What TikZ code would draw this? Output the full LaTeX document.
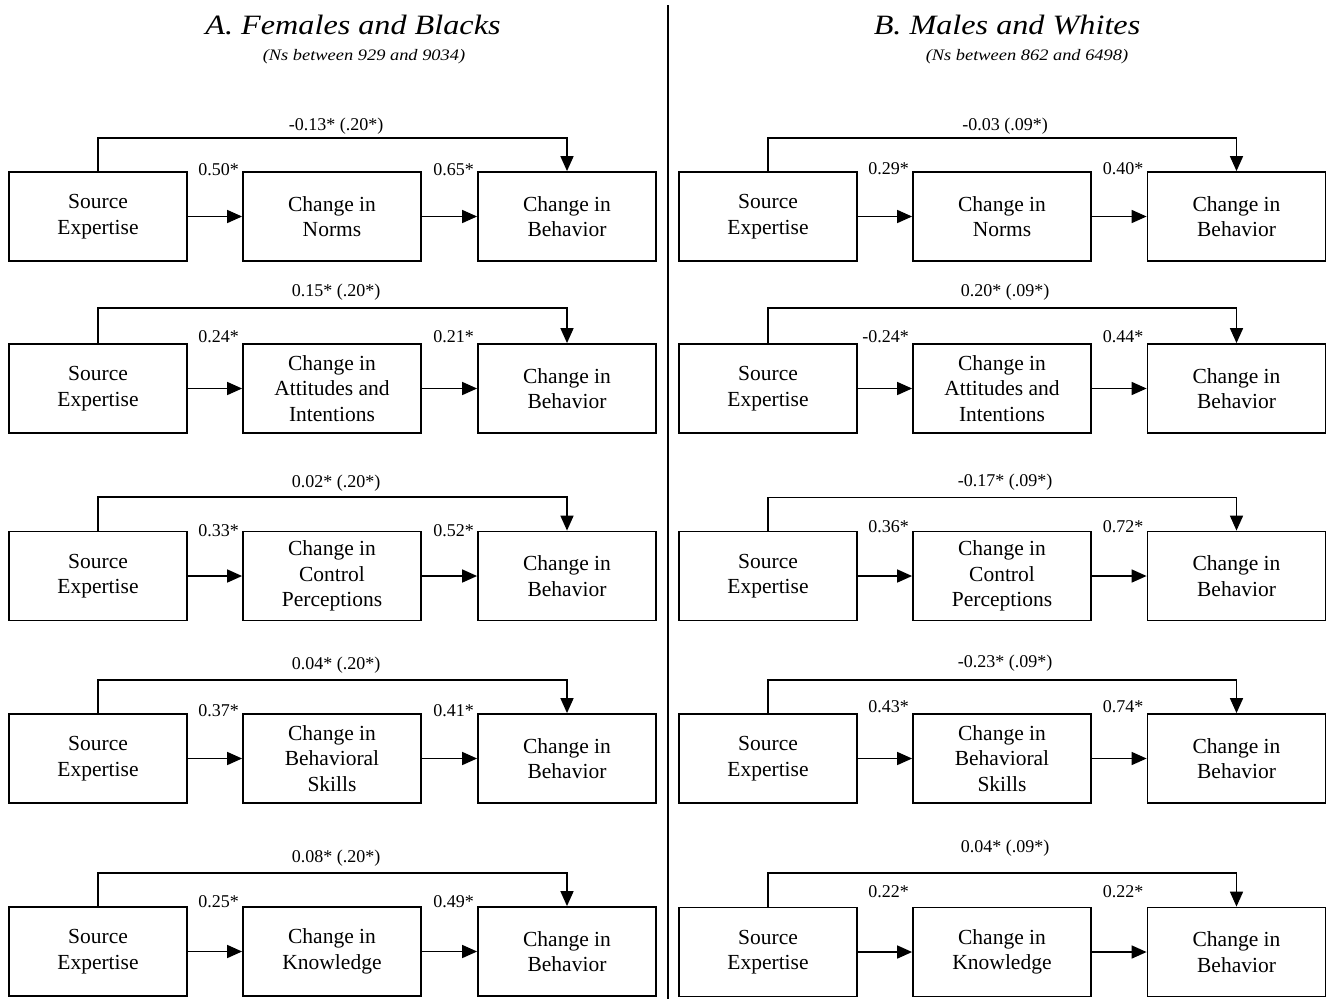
\documentclass[tikz,border=0pt]{standalone}
\usepackage{fontspec}
\setmainfont{Liberation Serif}
\newfontfamily\widefont{Liberation Serif}[FakeStretch=1.15]
\usetikzlibrary{arrows.meta}
\tikzset{
	box/.style={draw, line width=1.8pt, minimum width=178pt, minimum height=89pt,
		inner sep=0pt, align=center, font=\fontsize{21.5}{25.5}\selectfont},
	coef/.style={inner sep=0pt, font=\fontsize{18}{20}\selectfont},
	arr/.style={line width=1.6pt, -{Triangle[length=15pt,width=13pt]}}
}
\begin{document}
\begin{tikzpicture}[x=1pt,y=-1pt]
	\useasboundingbox (0,0) rectangle (1329,999);
	\path node (titA) at (353,25) {\widefont\itshape\fontsize{28}{30}\selectfont A. Females and Blacks}
		  node (subA) at (364,57) {\widefont\itshape\fontsize{16}{18}\selectfont (Ns between 929 and 9034)}
		  node (titB) at (1007,25) {\widefont\itshape\fontsize{28}{30}\selectfont B. Males and Whites}
		  node (subB) at (1027,57) {\widefont\itshape\fontsize{16}{18}\selectfont (Ns between 862 and 6498)};
	\draw [line width=1.8pt] (668,5) -- (668,999);
	\foreach \y/\ly/\ty/\iy/\mtext/\cfall/\cfa/\cfb [count=\row] in {
		216.5/138/126/170/Change in\\Norms/-0.13* (.20*)/0.50*/0.65*,
		388.5/308/292/337/Change in\\Attitudes and\\Intentions/0.15* (.20*)/0.24*/0.21*,
		576/497/483/531/Change in\\Control\\Perceptions/0.02* (.20*)/0.33*/0.52*,
		758.5/680/665/711/Change in\\Behavioral\\Skills/0.04* (.20*)/0.37*/0.41*,
		951.5/873/858/902/Change in\\Knowledge/0.08* (.20*)/0.25*/0.49*}{
		\node [box] (srcA\row) at (98,\y) {Source\\Expertise};
		\node [box] (midA\row) at (332,\y) {\mtext};
		\node [box] (behA\row) at (567,\y) {Change in\\Behavior};
		\coordinate (topA\row) at (0,\ly);
		\coordinate (levA\row) at (0,\iy);
		\node [coef] (totA\row) at (336,\ty) {\cfall};
		\node [coef, anchor=east] (cfaA\row) at ([xshift=-3pt]midA\row.west |- levA\row) {\cfa};
		\node [coef, anchor=east] (cfbA\row) at ([xshift=-3pt]behA\row.west |- levA\row) {\cfb};
		\draw [arr] (srcA\row) -- (midA\row);
		\draw [arr] (midA\row) -- (behA\row);
		\draw [arr] (srcA\row.north) -- (srcA\row.north |- topA\row) -| (behA\row.north);
	}
	\foreach \y/\ly/\ty/\iy/\mtext/\cfall/\cfa/\cfb [count=\row] in {
		216.5/138/126/169/Change in\\Norms/-0.03 (.09*)/0.29*/0.40*,
		388.5/308/292/337/Change in\\Attitudes and\\Intentions/0.20* (.09*)/-0.24*/0.44*,
		576/497.5/482/527/Change in\\Control\\Perceptions/-0.17* (.09*)/0.36*/0.72*,
		758.5/680/663/707/Change in\\Behavioral\\Skills/-0.23* (.09*)/0.43*/0.74*,
		952/873/848/892/Change in\\Knowledge/0.04* (.09*)/0.22*/0.22*}{
		\node [box] (srcB\row) at (768,\y) {Source\\Expertise};
		\node [box] (midB\row) at (1002,\y) {\mtext};
		\node [box] (behB\row) at (1236.5,\y) {Change in\\Behavior};
		\coordinate (topB\row) at (0,\ly);
		\coordinate (levB\row) at (0,\iy);
		\node [coef] (totB\row) at (1005,\ty) {\cfall};
		\node [coef, anchor=east] (cfaB\row) at ([xshift=-3pt]midB\row.west |- levB\row) {\cfa};
		\node [coef, anchor=east] (cfbB\row) at ([xshift=-3pt]behB\row.west |- levB\row) {\cfb};
		\draw [arr] (srcB\row) -- (midB\row);
		\draw [arr] (midB\row) -- (behB\row);
		\draw [arr] (srcB\row.north) -- (srcB\row.north |- topB\row) -| (behB\row.north);
	}
\end{tikzpicture}
\end{document}
